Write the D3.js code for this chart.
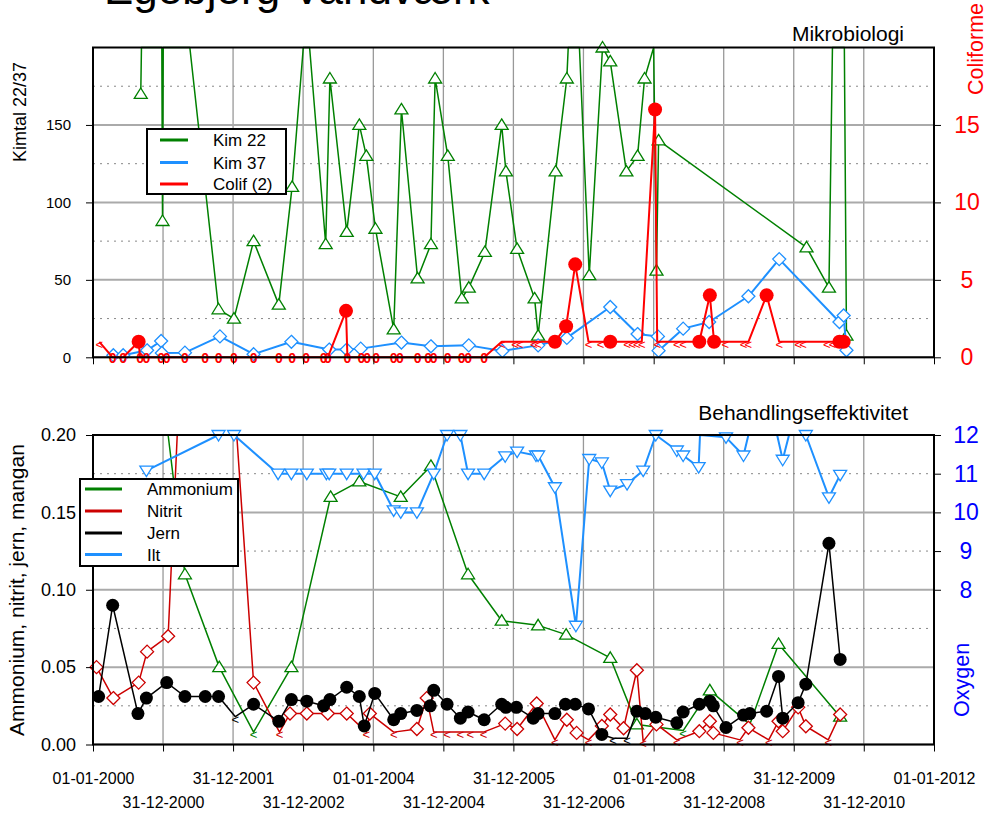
<!DOCTYPE html>
<meta charset="utf-8">
<script src="https://d3js.org/d3.v7.min.js"></script>
<style>
  body { margin: 0; background: #fff; }
  svg text { font-family: "Liberation Sans", Arial, sans-serif; }
</style>
<body>
<div id="chart"></div>
<script>
// dates are decimal years, values as plotted
var tickLabels = ["01-01-2000", "31-12-2000", "31-12-2001", "31-12-2002", "01-01-2004", "31-12-2004",
  "31-12-2005", "31-12-2006", "01-01-2008", "31-12-2008", "31-12-2009", "31-12-2010", "01-01-2012"];

// Mikrobiologi: Kim 22 (values above 200 run off the top)
var kim22 = [[2000.68,170],[2000.69,400],[2000.98,400],[2000.99,88],[2001.00,400],[2001.38,400],
  [2001.79,31],[2002.01,25],[2002.29,75],[2002.65,34],[2002.84,110],[2003.00,400],[2003.09,400],
  [2003.32,73],[2003.38,180],[2003.62,81],[2003.80,150],[2003.90,130],[2004.03,83],[2004.29,18],
  [2004.40,160],[2004.63,51],[2004.82,73],[2004.88,180],[2005.06,130],[2005.26,38],[2005.36,45],
  [2005.59,68],[2005.83,150],[2005.89,120],[2006.05,70],[2006.30,38],[2006.35,14],[2006.60,120],
  [2006.76,180],[2006.78,400],[2006.94,400],[2007.08,53],[2007.27,200],[2007.38,191],[2007.61,120],
  [2007.77,130],[2007.87,180],[2008.00,400],[2008.04,56],[2008.07,140],[2010.18,71],[2010.50,45],
  [2010.55,400],[2010.72,400],[2010.75,14]];

// Kim 37
var kim37 = [[2000.29,1.3],[2000.43,1.3],[2000.77,4.5],[2000.97,10.5],[2000.98,2.8],[2001.31,3],
  [2001.81,13.5],[2002.29,2],[2002.83,10],[2003.37,5],[2003.62,5],[2003.82,5.6],[2004.40,9.5],
  [2004.82,7.1],[2005.36,7.7],[2005.84,4.1],[2006.35,7.7],[2006.76,12.5],[2007.38,32.5],
  [2007.77,15],[2008.06,13.5],[2008.07,4.3],[2008.42,18.5],[2008.79,22.8],[2009.35,39.4],
  [2009.79,63.4],[2010.65,22.8],[2010.71,27],[2010.75,4.5]];

// Colif (2): "o" found, "0" none found, "<" below 1
var colif = [[2000.09,1,"<"],[2000.28,0,"0"],[2000.43,0,"0"],[2000.65,1,"o"],[2000.67,0,"0"],
  [2000.76,0,"0"],[2000.97,0,"0"],[2001.05,0,"0"],[2001.31,0,"0"],[2001.60,0,"0"],[2001.79,0,"0"],
  [2002.01,0,"0"],[2002.29,0,"0"],[2002.65,0,"0"],[2002.84,0,"0"],[2003.04,0,"0"],[2003.29,0,"0"],
  [2003.35,0,"0"],[2003.61,3,"o"],[2003.63,0,"0"],[2003.83,0,"0"],[2003.91,0,"0"],[2004.04,0,"0"],
  [2004.29,0,"0"],[2004.38,0,"0"],[2004.63,0,"0"],[2004.78,0,"0"],[2004.86,0,"0"],[2005.06,0,"0"],
  [2005.26,0,"0"],[2005.35,0,"0"],[2005.58,0,"0"],[2005.83,1,"<"],[2006.02,1,"<"],[2006.09,1,"<"],
  [2006.29,1,"<"],[2006.35,1,"<"],[2006.59,1,"o"],[2006.75,2,"o"],[2006.88,6,"o"],[2007.07,1,"<"],
  [2007.24,1,"<"],[2007.38,1,"o"],[2007.62,1,"<"],[2007.69,1,"<"],[2007.76,1,"<"],[2007.83,1,"<"],
  [2008.02,16,"o"],[2008.05,1,"<"],[2008.33,1,"<"],[2008.42,1,"<"],[2008.65,1,"o"],[2008.80,4,"o"],
  [2008.86,1,"o"],[2009.02,1,"<"],[2009.28,1,"<"],[2009.35,1,"<"],[2009.61,4,"o"],[2009.79,1,"<"],
  [2010.06,1,"<"],[2010.13,1,"<"],[2010.47,1,"<"],[2010.55,1,"<"],[2010.65,1,"o"],[2010.71,1,"o"]];

// Behandlingseffektivitet: Ammonium
var ammonium = [[2001.07,0.3,"t"],[2001.31,0.110,"t"],[2001.80,0.050,"t"],[2002.29,0.008,"<"],
  [2002.83,0.050,"t"],[2003.39,0.160,"t"],[2003.80,0.170,"t"],[2004.39,0.160,"t"],[2004.82,0.180,"t"],
  [2005.35,0.110,"t"],[2005.83,0.080,"t"],[2006.35,0.077,"t"],[2006.75,0.071,"t"],[2007.38,0.056,"t"],
  [2007.76,0.013,"t"],[2008.42,0.009,"<"],[2008.80,0.035,"t"],[2009.37,0.013,"<"],[2009.78,0.065,"t"],
  [2010.66,0.018,"t"]];

// Nitrit
var nitrit = [[2000.05,0.050,"d"],[2000.29,0.030,"d"],[2000.65,0.040,"d"],[2000.77,0.060,"d"],
  [2001.07,0.070,"d"],[2001.20,0.5,"d"],[2002.05,0.5,"d"],[2002.29,0.040,"d"],[2002.66,0.008,"<"],
  [2002.81,0.020,"d"],[2003.05,0.020,"d"],[2003.35,0.020,"d"],[2003.62,0.020,"d"],[2003.90,0.008,"<"],
  [2003.95,0.020,"d"],[2004.29,0.008,"<"],[2004.62,0.010,"d"],[2004.76,0.030,"d"],[2004.86,0.008,"<"],
  [2005.05,0.008,"<"],[2005.24,0.008,"<"],[2005.38,0.008,"<"],[2005.57,0.008,"<"],[2005.88,0.0135,"d"],
  [2006.05,0.010,"d"],[2006.33,0.0265,"d"],[2006.59,0.003,"<"],[2006.76,0.016,"d"],[2006.90,0.0075,"d"],
  [2007.07,0.003,"<"],[2007.26,0.012,"d"],[2007.38,0.0194,"d"],[2007.57,0.0105,"d"],[2007.76,0.048,"d"],
  [2007.85,0.002,"<"],[2008.04,0.013,"d"],[2008.33,0.003,"<"],[2008.65,0.0086,"d"],[2008.80,0.015,"d"],
  [2008.85,0.0075,"d"],[2009.23,0.003,"<"],[2009.35,0.0108,"d"],[2009.64,0.003,"<"],[2009.78,0.015,"d"],
  [2009.84,0.0086,"d"],[2010.06,0.024,"d"],[2010.17,0.0118,"d"],[2010.49,0.003,"<"],[2010.66,0.0194,"d"]];

// Jern
var jern = [[2000.08,0.031,"o"],[2000.28,0.090,"o"],[2000.64,0.020,"o"],[2000.76,0.030,"o"],
  [2001.05,0.040,"o"],[2001.31,0.031,"o"],[2001.60,0.031,"o"],[2001.79,0.031,"o"],[2002.03,0.018,"<"],
  [2002.29,0.026,"o"],[2002.65,0.015,"o"],[2002.83,0.029,"o"],[2003.05,0.028,"o"],[2003.29,0.025,"o"],
  [2003.38,0.029,"o"],[2003.62,0.037,"o"],[2003.80,0.031,"o"],[2003.87,0.012,"o"],[2004.02,0.033,"o"],
  [2004.29,0.016,"o"],[2004.39,0.020,"o"],[2004.62,0.022,"o"],[2004.81,0.025,"o"],[2004.86,0.035,"o"],
  [2005.05,0.026,"o"],[2005.24,0.017,"o"],[2005.35,0.021,"o"],[2005.58,0.016,"o"],[2005.83,0.026,"o"],
  [2005.89,0.024,"o"],[2006.04,0.024,"o"],[2006.28,0.017,"o"],[2006.35,0.020,"o"],[2006.59,0.020,"o"],
  [2006.74,0.026,"o"],[2006.88,0.026,"o"],[2007.07,0.023,"o"],[2007.26,0.0065,"o"],[2007.42,0.004,"<"],
  [2007.62,0.004,"<"],[2007.76,0.0215,"o"],[2007.88,0.020,"o"],[2008.03,0.0176,"o"],[2008.33,0.014,"o"],
  [2008.42,0.021,"o"],[2008.65,0.026,"o"],[2008.80,0.028,"o"],[2008.85,0.025,"o"],[2009.03,0.011,"o"],
  [2009.28,0.019,"o"],[2009.37,0.020,"o"],[2009.61,0.0215,"o"],[2009.78,0.044,"o"],[2009.84,0.017,"o"],
  [2010.06,0.027,"o"],[2010.17,0.039,"o"],[2010.50,0.130,"o"],[2010.66,0.055,"o"]];

// Ilt (Oxygen, right axis; values above 12 run off the top)
var ilt = [[2000.76,11.08],[2001.79,12.0],[2002.01,12.0],[2002.64,11.0],[2002.83,11.0],[2003.05,11.0],
  [2003.33,11.0],[2003.37,11.0],[2003.62,11.0],[2003.86,11.0],[2004.02,11.0],[2004.29,10.05],
  [2004.39,10.0],[2004.62,10.0],[2004.86,11.0],[2005.05,12.0],[2005.24,12.0],[2005.35,11.0],
  [2005.58,11.0],[2005.88,11.45],[2006.05,11.57],[2006.32,11.47],[2006.35,11.47],[2006.59,10.65],
  [2006.89,7.07],[2007.08,11.38],[2007.26,11.29],[2007.38,10.56],[2007.62,10.73],[2007.85,11.08],
  [2008.03,12.0],[2008.33,11.6],[2008.42,11.47],[2008.64,11.17],[2008.66,13],[2009.03,11.94],
  [2009.28,11.47],[2009.35,13],[2009.76,13],[2009.84,11.36],[2009.93,13],[2010.17,12.0],
  [2010.50,10.39],[2010.66,10.97]];

var width = 989, height = 816;
var left = 93, right = 934;
var topA = 47.5, botA = 357.3, topB = 435, botB = 744.5;

var svg = d3.select("#chart").append("svg")
  .attr("width", width).attr("height", height);

function toDate(y) {
  var yr = Math.floor(y);
  var a = new Date(yr, 0, 1), b = new Date(yr + 1, 0, 1);
  return new Date(+a + (y - yr) * (b - a));
}

var parseTick = d3.timeParse("%d-%m-%Y");
var tickDates = tickLabels.map(parseTick);

var x = d3.scaleTime()
  .domain([new Date(2000, 0, 1), new Date(2012, 0, 1)])
  .range([left, right]);

var yKim = d3.scaleLinear().domain([0, 200]).range([botA, topA]);
var yCol = d3.scaleLinear().domain([0, 20]).range([botA, topA]);
var yChem = d3.scaleLinear().domain([0, 0.2]).range([botB, topB]);
var yOx = d3.scaleLinear().domain([4, 12]).range([botB, topB]);

var shapes = {
  t: "M0,-6L6.5,4.5L-6.5,4.5Z",
  v: "M0,6L6.5,-4.5L-6.5,-4.5Z",
  d: "M0,-6.5L6.5,0L0,6.5L-6.5,0Z"
};

// grid for one panel
function grid(y, major, minor) {
  var g = svg.append("g");
  g.selectAll(".vg").data(tickDates.slice(1, -1)).enter().append("line")
    .attr("x1", d => x(d)).attr("x2", d => x(d))
    .attr("y1", y.range()[1]).attr("y2", y.range()[0])
    .attr("stroke", "#999").attr("stroke-width", 1.3);
  g.selectAll(".hg").data(major).enter().append("line")
    .attr("x1", left).attr("x2", right)
    .attr("y1", d => y(d)).attr("y2", d => y(d))
    .attr("stroke", "#aaa").attr("stroke-width", 2);
  g.selectAll(".hd").data(minor).enter().append("line")
    .attr("x1", left).attr("x2", right)
    .attr("y1", d => y(d)).attr("y2", d => y(d))
    .attr("stroke", "#888").attr("stroke-width", 1).attr("stroke-dasharray", "2,5");
}

grid(yKim, [0, 50, 100, 150], [25, 75, 125, 175]);
grid(yChem, [0, 0.05, 0.10, 0.15], [0.025, 0.075, 0.125, 0.175]);

// one series: line clamped to the top, then markers
function series(data, y, color, lw, def) {
  var top = y.domain()[1];
  var line = d3.line()
    .x(d => x(toDate(d[0])))
    .y(d => y(Math.min(d[1], top)));
  svg.append("path").datum(data)
    .attr("d", line).attr("fill", "none")
    .attr("stroke", color).attr("stroke-width", lw)
    .attr("stroke-linejoin", "round");
  var pts = data.filter(d => d[1] <= top * 1.005);
  var g = svg.append("g");
  pts.forEach(function(d) {
    var m = d[2] || def;
    var px = x(toDate(d[0])), py = y(d[1]);
    if (shapes[m]) {
      g.append("path").attr("d", shapes[m])
        .attr("transform", "translate(" + px + "," + py + ")")
        .attr("fill", "#fff").attr("stroke", color).attr("stroke-width", 1.3);
    } else if (m == "o") {
      g.append("circle").attr("cx", px).attr("cy", py).attr("r", def == "big" ? 7 : 6.5)
        .attr("fill", color);
    } else if (m == "0") {
      g.append("text").attr("x", px).attr("y", py).attr("dy", 6)
        .attr("text-anchor", "middle").attr("font-size", 14).attr("font-weight", "bold")
        .attr("fill", color).text(m);
    } else {
      g.append("text").attr("x", px).attr("y", py).attr("dy", 7)
        .attr("text-anchor", "middle").attr("font-size", 13)
        .attr("fill", color).text(m);
    }
  });
}

series(kim22, yKim, "#008000", 1.5, "t");
series(kim37, yKim, "#1e90ff", 2, "d");
series(colif, yCol, "#ff0000", 2, "big");

series(ammonium, yChem, "#008000", 1.5, "t");
series(nitrit, yChem, "#cc0000", 1.5, "d");
series(jern, yChem, "#000000", 1.5, "o");
series(ilt, yOx, "#1e90ff", 2, "v");

// panel boxes
[[topA, botA], [topB, botB]].forEach(function(p) {
  svg.append("rect").attr("x", left).attr("y", p[0])
    .attr("width", right - left).attr("height", p[1] - p[0])
    .attr("fill", "none").attr("stroke", "#000").attr("stroke-width", 2);
});

// axes
function styleAxis(g, size, color) {
  g.select(".domain").remove();
  g.selectAll("line").attr("stroke", "#000");
  g.selectAll("text").attr("font-size", size).attr("fill", color)
    .attr("font-family", "Liberation Sans, Arial, sans-serif");
}

svg.append("g").attr("transform", "translate(0," + botA + ")")
  .call(d3.axisBottom(x).tickValues(tickDates).tickFormat("").tickSize(7))
  .call(g => styleAxis(g, 12, "#000"));

var xb = svg.append("g").attr("transform", "translate(0," + botB + ")")
  .call(d3.axisBottom(x).tickValues(tickDates).tickFormat((d, i) => tickLabels[i]).tickSize(7))
  .call(g => styleAxis(g, 16, "#000"));
xb.selectAll("text").attr("dy", 0).attr("y", (d, i) => i % 2 ? 63 : 39);

svg.append("g").attr("transform", "translate(" + left + ",0)")
  .call(d3.axisLeft(yKim).tickValues([0, 50, 100, 150]).tickSize(7).tickPadding(15))
  .call(g => styleAxis(g, 15, "#000"));

svg.append("g").attr("transform", "translate(" + left + ",0)")
  .call(d3.axisLeft(yChem).tickValues([0, 0.05, 0.10, 0.15, 0.20]).tickFormat(d3.format(".2f"))
    .tickSize(7).tickPadding(10))
  .call(g => styleAxis(g, 18, "#000"));

// right axes: labels centred at x = 967
svg.append("g").attr("transform", "translate(" + right + ",0)")
  .call(d3.axisRight(yCol).tickValues([0, 5, 10, 15]).tickSize(7))
  .call(g => styleAxis(g, 23, "#ff0000"))
  .call(g => g.selectAll("text").attr("x", 33).attr("text-anchor", "middle"));

svg.append("g").attr("transform", "translate(" + right + ",0)")
  .call(d3.axisRight(yOx).tickValues([8, 9, 10, 11, 12]).tickSize(7))
  .call(g => styleAxis(g, 23, "#0000ff"))
  .call(g => g.selectAll("text").attr("x", 32).attr("text-anchor", "middle"));

// legends
function legend(x0, y0, w, h, items, lx1, lx2, tx, rows, size) {
  var g = svg.append("g");
  g.append("rect").attr("x", x0).attr("y", y0).attr("width", w).attr("height", h)
    .attr("fill", "#fff").attr("stroke", "#000").attr("stroke-width", 2);
  items.forEach(function(it, i) {
    g.append("line").attr("x1", lx1).attr("x2", lx2).attr("y1", rows[i]).attr("y2", rows[i])
      .attr("stroke", it[1]).attr("stroke-width", 3);
    g.append("text").attr("x", tx).attr("y", rows[i]).attr("dy", "0.36em")
      .attr("font-size", size).text(it[0]);
  });
}

legend(147, 129, 139, 65, [["Kim 22", "#008000"], ["Kim 37", "#1e90ff"], ["Colif (2)", "#ff0000"]],
  160, 188, 213, [140, 162.5, 184], 17);
legend(80, 479, 158, 87, [["Ammonium", "#008000"], ["Nitrit", "#cc0000"], ["Jern", "#000000"], ["Ilt", "#1e90ff"]],
  85, 122, 147, [489, 511, 533, 554.5], 17);

// titles and axis names
svg.append("text").attr("x", 104).attr("y", 4).attr("font-size", 44).text("Egebjerg Vandværk");
svg.append("text").attr("x", 904).attr("y", 41).attr("text-anchor", "end")
  .attr("font-size", 21).text("Mikrobiologi");
svg.append("text").attr("x", 908).attr("y", 420).attr("text-anchor", "end")
  .attr("font-size", 21).text("Behandlingseffektivitet");

svg.append("text").attr("transform", "translate(26,112) rotate(-90)")
  .attr("text-anchor", "middle").attr("font-size", 18).text("Kimtal 22/37");
svg.append("text").attr("transform", "translate(24,590) rotate(-90)")
  .attr("text-anchor", "middle").attr("font-size", 21).text("Ammonium, nitrit, jern, mangan");
svg.append("text").attr("transform", "translate(983,95) rotate(-90)")
  .attr("font-size", 21.5).attr("fill", "#ff0000").text("Coliforme");
svg.append("text").attr("transform", "translate(969,717) rotate(-90)")
  .attr("font-size", 21.5).attr("fill", "#0000ff").text("Oxygen");
</script>
</body>
